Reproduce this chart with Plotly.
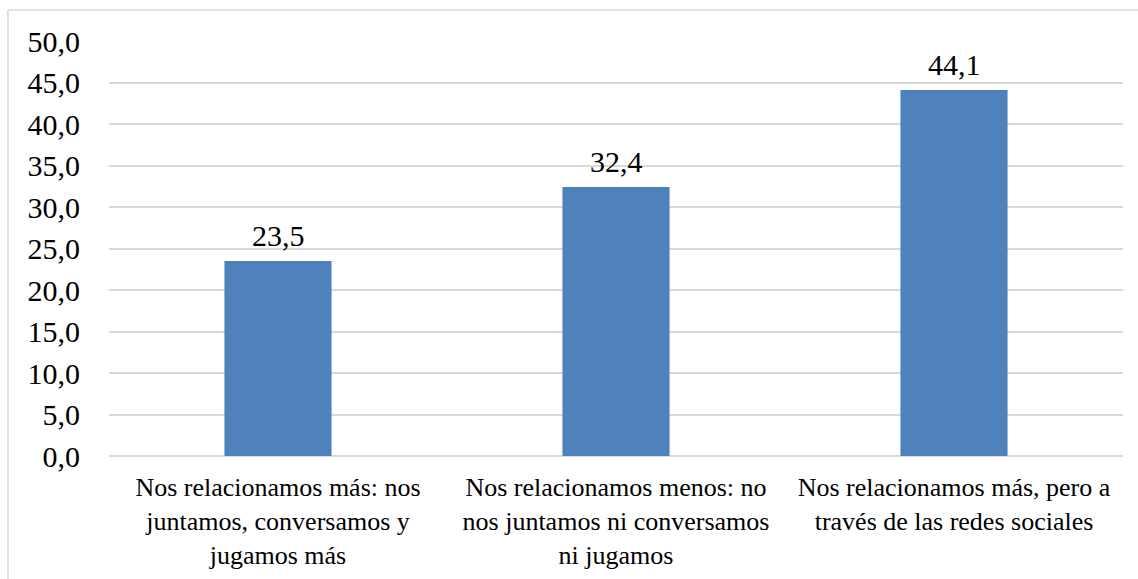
import plotly.graph_objects as go

categories = [
    "Nos relacionamos más: nos<br>juntamos, conversamos y<br>jugamos más",
    "Nos relacionamos menos: no<br>nos juntamos ni conversamos<br>ni jugamos",
    "Nos relacionamos más, pero a<br>través de las redes sociales",
]
values = [23.5, 32.4, 44.1]
value_labels = ["23,5", "32,4", "44,1"]

BAR_COLOR = "#4F81BD"
GRID_COLOR = "#d9d9d9"
FONT = "Liberation Serif"

W, H = 1138, 579
L, R, T, B = 109, 15, 41, 123
pw, ph = W - L - R, H - T - B

fig = go.Figure(
    go.Bar(
        x=categories,
        y=values,
        marker={"color": BAR_COLOR, "line": {"width": 0}},
        width=0.317,
        hoverinfo="skip",
    )
)

# value labels sit a bit higher above the bars than Plotly's "outside" text
for cat, val, lab in zip(categories, values, value_labels):
    fig.add_annotation(
        x=cat,
        y=val,
        text=lab,
        showarrow=False,
        yanchor="bottom",
        yshift=7,
        font={"size": 30, "color": "black", "family": FONT},
    )

fig.update_layout(
    width=W,
    height=H,
    margin={"l": L, "r": R, "t": T, "b": B},
    paper_bgcolor="white",
    plot_bgcolor="white",
    showlegend=False,
    separators=",.",
    font={"family": FONT, "color": "black"},
    xaxis={
        "showgrid": False,
        "showline": False,
        "ticks": "",
        "tickfont": {"size": 26, "family": FONT},
        "ticklabelstandoff": 13,
        "automargin": False,
    },
    yaxis={
        "range": [0, 50],
        "dtick": 5,
        "tickformat": ".1f",
        "showgrid": True,
        "gridcolor": GRID_COLOR,
        "gridwidth": 1.5,
        "zeroline": True,
        "zerolinecolor": GRID_COLOR,
        "zerolinewidth": 1.5,
        "showline": False,
        "ticks": "",
        "tickfont": {"size": 30, "family": FONT},
        "ticklabelstandoff": 28,
        "automargin": False,
    },
)

# outer chart border: only its top and left edges fall inside the frame
bx0 = (8 - L) / pw
by0 = -(H - (H - B)) / ph
by1 = 1 + (T - 10) / ph
bx1 = (W - L) / pw
border = {"color": "#d9d9d9", "width": 1.5}
fig.add_shape(type="line", xref="paper", yref="paper", x0=bx0, x1=bx0, y0=by0, y1=by1, line=border)
fig.add_shape(type="line", xref="paper", yref="paper", x0=bx0, x1=bx1, y0=by1, y1=by1, line=border)

fig.write_html(
    "out.html",
    config={"displayModeBar": False},
    post_script="document.body.style.margin='0';",
)
